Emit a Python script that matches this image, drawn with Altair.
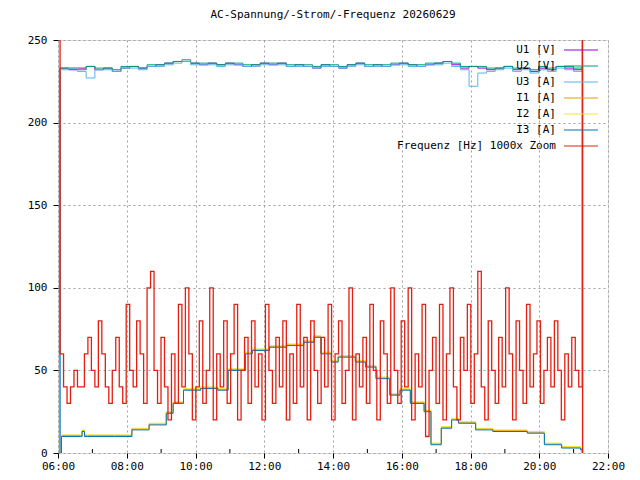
import altair as alt
import pandas as pd
import numpy as np

T0, T1 = 6.06, 21.25
# frequency (1000x zoom, offset), sampled evenly T0..T1
freq = [60,40,30,40,50,40, 40,60,70,50,40,80,60,40,30,50,
        70,40,30,90,50,40,80,60,30,100, 110,50,30,70,40,20,60,30,90,40,
        100,60,20,40,80,30,50,100,20,60, 40,80,30,60,90,20,50,70,30,80,
        40,60,20,90,50,30,70,40,80,20, 60,30,90,40,70,20,80,50,30,70,
        40,90,20,60,80,30,50,100,20,60, 40,70,30,90,50,20,80,60,30,100,
        50,30,80,40,100,20,60,40,90,10, 50,70,30,90,20,60,100,40,20,70,
        50,90,30,60,110,40,20,80,50,30, 70,40,100,60,20,80,50,30,90,40,
        60,80,30,50,70,40,80,50,20,60, 40,70,50,40,60]
u1 = [233,232,233,234,232,233,231,233,234,233,234,235,236,237,237,236,235,236,235,236,235,234,235,236,235,236,234,235,234,233,235,234,233,235,236,234,235,234,235,236,235,234,235,236,237,235,233,234,233,232,233,234,232,233,231,233,232,234,233,232,234]
u2 = [233,233,232,234,233,233,232,234,234,233,235,235,236,237,238,236,236,236,235,236,236,235,235,236,236,236,235,235,235,234,235,235,234,235,236,235,235,235,236,236,235,235,236,236,237,236,234,234,234,233,233,234,233,233,232,234,233,234,234,233,234]
u3 = [232,233,231,227,232,232,231,233,233,232,234,234,235,236,237,235,235,235,234,235,235,234,234,235,235,235,234,234,234,233,234,234,233,234,235,234,234,234,235,235,234,234,235,235,236,234,232,222,230,231,232,233,231,232,230,232,231,233,232,231,233]
i_t = [6.06,6.10,6.65,6.70,6.77,6.85,7.65,8.15,8.65,9.15,9.35,9.65,10.15,10.65,10.95,11.45,11.65,12.15,12.65,13.15,13.45,13.65,13.95,14.15,14.65,14.95,15.25,15.65,15.95,16.25,16.65,16.85,17.15,17.45,17.65,18.15,18.65,19.15,19.65,20.15,20.65,21.2,21.25]
i1 = [0,10,10,13,10,10,10,14,17,24,30,38,39,38,50,60,62,64,65,67,70,60,55,58,55,52,45,35,38,30,25,5,15,20,18,14,13,13,12,5,3,2,0]

def even(vals, t0=T0, t1=T1):
    return [t0 + (t1 - t0) * k / (len(vals) - 1) for k in range(len(vals))]

rows = []
for name, vals in [("U1 [V]", u1), ("U2 [V]", u2), ("U3 [A]", u3)]:
    ts = even(vals)
    rows += [(name, T0 - 0.01, 0), *[(name, t, v) for t, v in zip(ts, vals)], (name, T1 + 0.01, 0)]
offs = {"I1 [A]": 0.6, "I2 [A]": 1.0, "I3 [A]": 0.0}
for name, o in offs.items():
    rows += [(name, t, v + (o if v > 0 else 0)) for t, v in zip(i_t, i1)]
df = pd.DataFrame(rows, columns=["s", "t", "v"])

ft = even(freq)
fdf = pd.DataFrame({"t": [T0 - 0.02] + ft + [T1, T1 + 0.01], "v": [250] + freq + [250, 0]})

names = ["U1 [V]", "U2 [V]", "U3 [A]", "I1 [A]", "I2 [A]", "I3 [A]", "Frequenz [Hz] 1000x Zoom"]
colors = ["#9400d3", "#009e73", "#56b4e9", "#e69f00", "#f0e442", "#0072b2", "#e51e10"]

W, H = 550, 413
xs = alt.Scale(domain=[6, 22], nice=False, padding=0, zero=False)
ys = alt.Scale(domain=[0, 250], nice=False, padding=0)
font = "DejaVu Sans Mono"
xax = alt.Axis(values=list(range(6, 23, 2)), labelExpr="(datum.value<10?'0':'')+datum.value+':00'",
               grid=True, gridDash=[2, 3], gridColor="#a0a0a0", tickColor="black", domain=False,
               labelFont=font, labelFontSize=11, labelColor="black", title=None, tickSize=5,
               labelFlush=False, labelOverlap=False)
yax = alt.Axis(values=list(range(0, 251, 50)), grid=True, gridDash=[2, 3], gridColor="#a0a0a0",
               tickColor="black", domain=False, labelFont=font, labelFontSize=11, labelColor="black",
               title=None, tickSize=5, labelPadding=6, labelFlush=False)
cs = alt.Scale(domain=names, range=colors)

minor = alt.Chart(pd.DataFrame({"t": list(range(7, 22, 2))})).mark_rule(color="black").encode(
    x=alt.X("t:Q", scale=xs, axis=xax), y=alt.value(H), y2=alt.value(H - 4))

lines = alt.Chart(df).mark_line(strokeWidth=1, interpolate="step-after", clip=True).encode(
    x=alt.X("t:Q", scale=xs, axis=xax), y=alt.Y("v:Q", scale=ys, axis=yax),
    color=alt.Color("s:N", scale=cs, legend=None), detail="s:N")
fl = alt.Chart(fdf).mark_line(strokeWidth=1.3, interpolate="step-after", color="#e51e10", clip=True).encode(
    x=alt.X("t:Q", scale=xs), y=alt.Y("v:Q", scale=ys))

leg = pd.DataFrame({"s": names, "k": list(range(7))})
leg["py"] = 10 + 16 * leg["k"]
ltxt = alt.Chart(leg).mark_text(align="right", baseline="middle", font=font, fontSize=11, color="black").encode(
    x=alt.value(W - 52), y=alt.Y("py:Q", scale=None), text="s:N")
lrule = alt.Chart(leg).mark_rule(strokeWidth=1).encode(
    x=alt.value(W - 44), x2=alt.value(W - 10), y=alt.Y("py:Q", scale=None),
    color=alt.Color("s:N", scale=cs, legend=None))

chart = alt.layer(lines, fl, minor, ltxt, lrule).properties(
    width=W, height=H, autosize=alt.AutoSizeParams(type="none"),
    padding={"left": 50, "top": 32, "right": 20, "bottom": 27},
    title=alt.Title("AC-Spannung/-Strom/-Frequenz 20260629", font=font, fontSize=11, fontWeight="normal", offset=14),
).configure_view(stroke="black", strokeWidth=1).configure(background="white")
chart.save("out.html", embed_options={"renderer": "svg", "actions": False})
